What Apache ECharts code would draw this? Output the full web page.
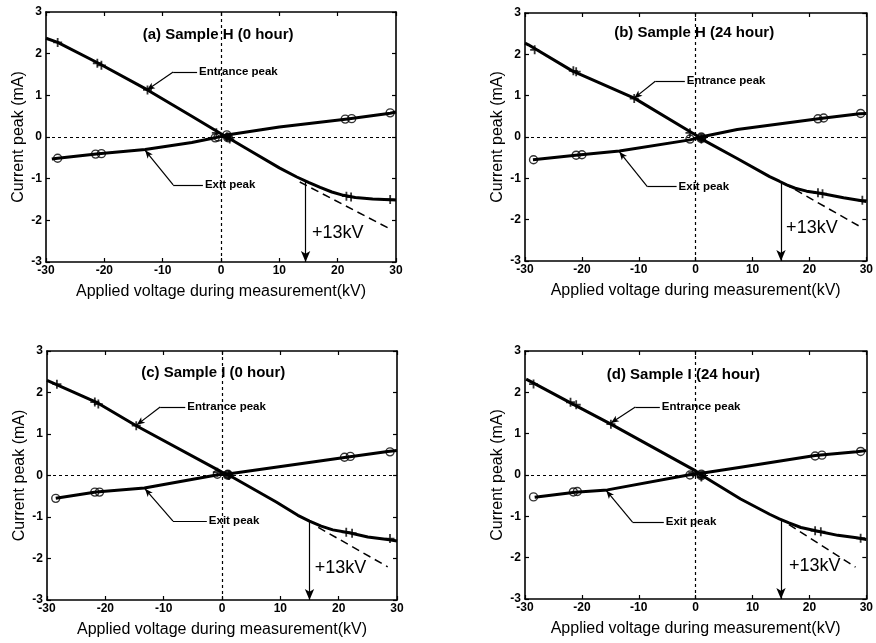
<!DOCTYPE html>
<html>
<head>
<meta charset="utf-8">
<script src="https://cdn.jsdelivr.net/npm/echarts@6/dist/echarts.min.js"></script>
<style>
  html, body { margin: 0; padding: 0; background: #fff; }
  #chart { width: 876px; height: 643px; }
</style>
</head>
<body>
<div id="chart"></div>
<script>
// ---- data -----------------------------------------------------------------
const voltageTicks = [-30, -20, -10, 0, 10, 20, 30];
const currentTicks = [-3, -2, -1, 0, 1, 2, 3];
const panelTitles = ['(a) Sample H (0 hour)', '(b) Sample H (24 hour)', '(c) Sample I (0 hour)', '(d) Sample I (24 hour)'];
const xAxisName = 'Applied voltage during measurement(kV)';
const yAxisName = 'Current peak (mA)';

// fitted curves [kV, mA]
const entranceCurveA = [[-30, 2.37], [-28, 2.27], [-21, 1.77], [-12.6, 1.13], [-5, 0.5], [0, 0.08], [1, 0], [5, -0.33], [10, -0.74], [13, -0.96], [15, -1.09], [17, -1.21], [19, -1.32], [21, -1.4], [23, -1.45], [26, -1.49], [30, -1.51]];
const exitCurveA = [[-29, -0.53], [-28, -0.51], [-21, -0.4], [-13, -0.3], [-5, -0.13], [-1, -0.02], [1, 0.05], [10, 0.24], [21.7, 0.43], [29, 0.57], [30, 0.6]];
const entranceCurveB = [[-30, 2.27], [-29.4, 2.23], [-21.7, 1.6], [-10.8, 0.94], [0, 0.05], [1.3, -0.07], [7.3, -0.52], [13, -0.96], [14.7, -1.07], [16, -1.16], [17.5, -1.24], [19.5, -1.31], [21.9, -1.36], [26, -1.47], [30, -1.56]];
const exitCurveB = [[-28.6, -0.55], [-21.1, -0.44], [-13.4, -0.34], [-1, -0.07], [1.3, 0.01], [7.3, 0.18], [21.9, 0.45], [28.8, 0.56], [30, 0.57]];
const entranceCurveC = [[-30, 2.29], [-21.6, 1.77], [-14.7, 1.2], [0, 0.08], [1.3, 0], [9.3, -0.64], [13, -0.96], [15, -1.1], [17, -1.22], [19, -1.31], [21.8, -1.38], [25, -1.48], [28.7, -1.55], [30, -1.58]];
const exitCurveC = [[-28.5, -0.55], [-21.6, -0.4], [-13.3, -0.3], [-0.7, 0.02], [1.3, 0.04], [21.3, 0.44], [28.4, 0.58], [30, 0.6]];
const entranceCurveD = [[-29.8, 2.32], [-21.5, 1.71], [-14.9, 1.23], [0, 0.1], [1, 0], [7.9, -0.58], [13, -0.95], [14.7, -1.06], [16.4, -1.16], [18.5, -1.27], [21.5, -1.36], [25, -1.46], [28.3, -1.52], [30, -1.56]];
const exitCurveD = [[-28.3, -0.54], [-21.2, -0.42], [-15.5, -0.36], [-1.3, 0], [1, 0.04], [7.9, 0.19], [21, 0.47], [28.3, 0.56], [30, 0.59]];

// measured points
const entrancePointsA = [[-28, 2.27], [-21.2, 1.77], [-20.5, 1.72], [-12.6, 1.13], [-0.8, 0.1], [1, 0], [1.5, -0.05], [21.5, -1.42], [22.3, -1.44], [29, -1.5]];
const exitPointsA = [[-28, -0.51], [-21.5, -0.41], [-20.5, -0.4], [-1, -0.02], [-0.5, 0], [1, 0.05], [21.3, 0.43], [22.4, 0.44], [29, 0.58]];
const entrancePointsB = [[-28.3, 2.11], [-21.5, 1.6], [-21, 1.58], [-10.8, 0.93], [-1, 0.1], [1, -0.05], [21.5, -1.35], [22.3, -1.37], [29.3, -1.53]];
const exitPointsB = [[-28.5, -0.55], [-21, -0.44], [-20, -0.43], [-1, -0.05], [1, 0], [21.5, 0.44], [22.5, 0.46], [29, 0.57]];
const entrancePointsC = [[-28.3, 2.2], [-21.8, 1.77], [-21.2, 1.72], [-14.7, 1.2], [-0.8, 0.08], [1.2, 0], [21.3, -1.37], [22.3, -1.39], [28.8, -1.52]];
const exitPointsC = [[-28.5, -0.55], [-21.8, -0.4], [-21, -0.4], [-0.8, 0.03], [1, 0.03], [21, 0.44], [22, 0.46], [28.8, 0.57]];
const entrancePointsD = [[-28.5, 2.2], [-22, 1.76], [-21, 1.7], [-14.9, 1.23], [-0.5, 0.05], [1, -0.05], [21, -1.35], [22, -1.37], [29, -1.53]];
const exitPointsD = [[-28.5, -0.53], [-21.5, -0.41], [-20.8, -0.4], [-1, 0], [1, 0.02], [21, 0.46], [22.2, 0.48], [29, 0.57]];
// cluster of low-voltage readings around the origin
const originClusterA = [[1.2, -0.01]];
const originClusterB = [[1, -0.03]];
const originClusterC = [[1, 0.01]];
const originClusterD = [[1, -0.01]];

// linear extrapolation of the entrance peak (start, end)
const extrapolationA = [[13.5, -1.08], [29.3, -2.23]];
const extrapolationB = [[15.5, -1.12], [28.8, -2.16]];
const extrapolationC = [[16.5, -1.25], [28.4, -2.2]];
const extrapolationD = [[16.4, -1.2], [28.1, -2.23]];

// +13kV marker: [kV, mA where the arrow starts]
const shiftArrowA = [14.5, -1.08];
const shiftArrowB = [15, -1.1];
const shiftArrowC = [15, -1.12];
const shiftArrowD = [15, -1.1];
const shiftLabel = '+13kV';
const shiftLabelPos = [[15.6, -2.3], [15.9, -2.2], [15.9, -2.23], [16.4, -2.2]];

// leader lines: [arrow tip on curve, elbow, end near label]
const entranceLeaders = [
  [[-12.7, 1.13], [-8.2, 1.56], [-4.1, 1.56]],
  [[-10.8, 0.94], [-7.1, 1.35], [-1.9, 1.35]],
  [[-14.6, 1.22], [-10.6, 1.65], [-6.3, 1.65]],
  [[-14.9, 1.26], [-10.6, 1.645], [-6.3, 1.645]]
];
const exitLeaders = [
  [[-13.0, -0.32], [-8.2, -1.15], [-3.1, -1.15]],
  [[-13.4, -0.36], [-8.5, -1.2], [-3.35, -1.2]],
  [[-13.2, -0.32], [-8.4, -1.1], [-2.6, -1.1]],
  [[-15.7, -0.38], [-11.1, -1.14], [-5.6, -1.14]]
];
const entranceLabel = 'Entrance peak';
const exitLabel = 'Exit peak';
const titlePos = [[-0.5, 2.45], [-0.26, 2.52], [-1.5, 2.47], [-2.15, 2.42]];

// ---- layout ---------------------------------------------------------------
const grids = [
  { left: 46, top: 12, width: 350, height: 250 },
  { left: 525, top: 13, width: 349, height: 248 },
  { left: 47, top: 351, width: 350, height: 249 },
  { left: 525, top: 351, width: 349, height: 248 }
];

const panels = [
  { entrance: entranceCurveA, exit: exitCurveA, ePts: entrancePointsA, xPts: exitPointsA, origin: originClusterA, extra: extrapolationA, arrow: shiftArrowA },
  { entrance: entranceCurveB, exit: exitCurveB, ePts: entrancePointsB, xPts: exitPointsB, origin: originClusterB, extra: extrapolationB, arrow: shiftArrowB },
  { entrance: entranceCurveC, exit: exitCurveC, ePts: entrancePointsC, xPts: exitPointsC, origin: originClusterC, extra: extrapolationC, arrow: shiftArrowC },
  { entrance: entranceCurveD, exit: exitCurveD, ePts: entrancePointsD, xPts: exitPointsD, origin: originClusterD, extra: extrapolationD, arrow: shiftArrowD }
];

const FONT = '"Liberation Sans", Arial, Helvetica, sans-serif';
const INK = '#000';
const plusSymbol = 'path://M0,4H4V0H6V4H10V6H6V10H4V6H0Z';

const frameLine = { show: true, onZero: false, lineStyle: { color: INK, width: 1.6 } };
const innerTick = { show: true, inside: true, length: 4, lineStyle: { color: INK, width: 1.2 } };

const xAxes = [], yAxes = [], series = [];

panels.forEach((p, i) => {
  const common = { gridIndex: i, type: 'value', splitLine: { show: false }, axisLine: frameLine, axisTick: innerTick };
  xAxes.push(Object.assign({}, common, {
    position: 'bottom', min: voltageTicks[0], max: voltageTicks[voltageTicks.length - 1], interval: 10,
    axisLabel: { color: INK, fontSize: 12, fontWeight: 'bold', fontFamily: FONT, margin: 3 },
    name: xAxisName, nameLocation: 'middle', nameGap: 22,
    nameTextStyle: { color: INK, fontSize: 16, fontFamily: FONT }
  }));
  xAxes.push(Object.assign({}, common, {
    position: 'top', min: voltageTicks[0], max: voltageTicks[voltageTicks.length - 1], interval: 10,
    axisLabel: { show: false }
  }));
  yAxes.push(Object.assign({}, common, {
    position: 'left', min: currentTicks[0], max: currentTicks[currentTicks.length - 1], interval: 1,
    axisLabel: { color: INK, fontSize: 12, fontWeight: 'bold', fontFamily: FONT, margin: 4 },
    name: yAxisName, nameLocation: 'middle', nameGap: 19,
    nameTextStyle: { color: INK, fontSize: 16, fontFamily: FONT }
  }));
  yAxes.push(Object.assign({}, common, {
    position: 'right', min: currentTicks[0], max: currentTicks[currentTicks.length - 1], interval: 1,
    axisLabel: { show: false }
  }));

  const xi = 2 * i, yi = 2 * i;

  // entrance peak curve, carrying the dotted zero lines
  series.push({
    type: 'line', xAxisIndex: xi, yAxisIndex: yi, data: p.entrance,
    smooth: false, showSymbol: false, z: 4,
    lineStyle: { color: INK, width: 3, join: 'round' },
    markLine: {
      silent: true, symbol: 'none', label: { show: false },
      lineStyle: { color: INK, width: 1.2, type: [3, 3] },
      data: [{ xAxis: 0 }, { yAxis: 0 }]
    }
  });
  // exit peak curve
  series.push({
    type: 'line', xAxisIndex: xi, yAxisIndex: yi, data: p.exit,
    smooth: false, showSymbol: false, z: 4,
    lineStyle: { color: INK, width: 3, join: 'round' }
  });
  // measured points
  series.push({
    type: 'scatter', xAxisIndex: xi, yAxisIndex: yi, data: p.ePts, z: 5,
    symbol: plusSymbol, symbolSize: 9, itemStyle: { color: INK }
  });
  series.push({
    type: 'scatter', xAxisIndex: xi, yAxisIndex: yi, data: p.xPts, z: 5,
    symbol: 'circle', symbolSize: 8,
    itemStyle: { color: 'rgba(255,255,255,0)', borderColor: INK, borderWidth: 1.4 }
  });
  series.push({
    type: 'scatter', xAxisIndex: xi, yAxisIndex: yi, data: p.origin, z: 6,
    symbol: 'circle', symbolSize: 10, itemStyle: { color: INK }
  });

  // extrapolation (dashed) plus the annotation arrows
  const eL = entranceLeaders[i], xL = exitLeaders[i];
  const seg = (a, b, arrowSize) => [
    { coord: a, symbol: 'none' },
    { coord: b, symbol: arrowSize ? 'arrow' : 'none', symbolSize: arrowSize || 0 }
  ];
  series.push({
    type: 'line', xAxisIndex: xi, yAxisIndex: yi, data: p.extra, z: 3,
    showSymbol: false, lineStyle: { color: INK, width: 1.5, type: [8, 5] },
    markLine: {
      silent: true, label: { show: false },
      lineStyle: { color: INK, width: 1.2, type: 'solid' },
      data: [
        seg(p.arrow, [p.arrow[0], currentTicks[0]], [7, 11]),
        seg(eL[2], eL[1]),
        seg(eL[1], eL[0], [5, 8]),
        seg(xL[2], xL[1]),
        seg(xL[1], xL[0], [5, 8])
      ]
    }
  });
});

const chart = echarts.init(document.getElementById('chart'), null, { renderer: 'canvas' });
chart.setOption({
  animation: false,
  backgroundColor: '#fff',
  grid: grids,
  xAxis: xAxes,
  yAxis: yAxes,
  series: series
});

// text annotations anchored to data coordinates
const graphics = [];
const toPx = (i, pt) => chart.convertToPixel({ gridIndex: i }, pt);
panels.forEach((p, i) => {
  const t = toPx(i, titlePos[i]);
  graphics.push({ type: 'text', x: t[0], y: t[1], z: 10,
    style: { text: panelTitles[i], font: 'bold 15px ' + FONT, fill: INK, textAlign: 'center', textVerticalAlign: 'middle' } });
  const e = toPx(i, entranceLeaders[i][2]);
  graphics.push({ type: 'text', x: e[0] + 2, y: e[1], z: 10,
    style: { text: entranceLabel, font: 'bold 11.5px ' + FONT, fill: INK, textAlign: 'left', textVerticalAlign: 'middle' } });
  const x = toPx(i, exitLeaders[i][2]);
  graphics.push({ type: 'text', x: x[0] + 2, y: x[1], z: 10,
    style: { text: exitLabel, font: 'bold 11.5px ' + FONT, fill: INK, textAlign: 'left', textVerticalAlign: 'middle' } });
  const s = toPx(i, shiftLabelPos[i]);
  graphics.push({ type: 'text', x: s[0], y: s[1], z: 10,
    style: { text: shiftLabel, font: '18px ' + FONT, fill: INK, textAlign: 'left', textVerticalAlign: 'middle' } });
});
chart.setOption({ graphic: graphics });
</script>
</body>
</html>
